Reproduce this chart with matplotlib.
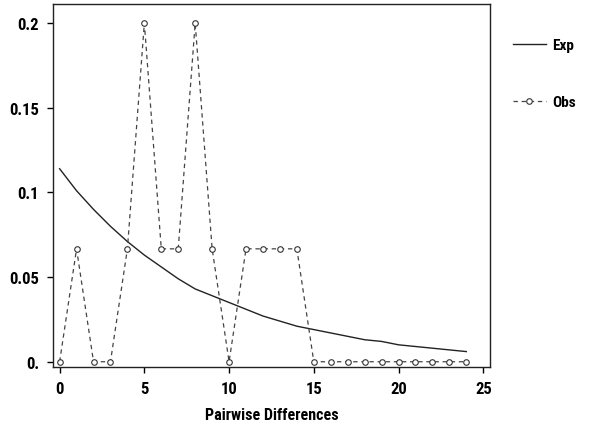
import matplotlib
matplotlib.use("Agg")
import matplotlib.pyplot as plt
import matplotlib.patheffects as pe
from matplotlib import font_manager

bold_fams = {f.name for f in font_manager.fontManager.ttflist
             if (f.weight == 'bold' or (isinstance(f.weight, int) and f.weight >= 700))}
family = None
for cand in ['Liberation Sans Narrow', 'Roboto Condensed', 'PT Sans Narrow', 'Archivo Narrow']:
    if cand in bold_fams:
        family = cand
        break
fake_bold = family is None
if family is None:
    family = 'Archivo Narrow'
plt.rcParams['font.family'] = [family, 'DejaVu Sans']
effects = [pe.withStroke(linewidth=0.7, foreground='black')] if fake_bold else []

diffs = list(range(25))
exp_vals = [0.114, 0.101, 0.090, 0.080, 0.071, 0.063, 0.056, 0.049, 0.043, 0.039,
            0.035, 0.031, 0.027, 0.024, 0.021, 0.019, 0.017, 0.015, 0.013, 0.012,
            0.010, 0.009, 0.008, 0.007, 0.006]
obs_vals = [0, 0.0667, 0, 0, 0.0667, 0.2, 0.0667, 0.0667, 0.2, 0.0667,
            0, 0.0667, 0.0667, 0.0667, 0.0667, 0, 0, 0, 0, 0,
            0, 0, 0, 0, 0]
xticks = [0, 5, 10, 15, 20, 25]
yticks = [0, 0.05, 0.1, 0.15, 0.2]
yticklabels = ['0.', '0.05', '0.1', '0.15', '0.2']

fig = plt.figure(figsize=(5.95, 4.27), dpi=100)
ax = fig.add_axes([0.0891, 0.1382, 0.7345, 0.850])

ax.plot(diffs, exp_vals, color='#222222', lw=1.0, label='Exp')
ax.plot(diffs, obs_vals, color='#444444', lw=0.9, ls=(0, (3.5, 3)),
        marker='o', ms=4, mfc='white', mec='#333333', mew=0.8, label='Obs')

ax.set_xlim(-0.39, 25.4)
ax.set_ylim(-0.0031, 0.2113)
ax.set_xticks(xticks)
ax.set_xticklabels([str(t) for t in xticks], fontsize=12, fontweight='bold')
ax.set_yticks(yticks)
ax.set_yticklabels(yticklabels, fontsize=12, fontweight='bold')
ax.tick_params(direction='out', length=4, width=1, pad=6)
for s in ax.spines.values():
    s.set_linewidth(1.0)
    s.set_color('#222222')
ax.set_xlabel('Pairwise Differences', fontsize=11.5, fontweight='bold', labelpad=8)

leg = ax.legend(loc='upper left', bbox_to_anchor=(1.02, 0.944), frameon=False,
                numpoints=1, handlelength=2.2, labelspacing=2.8, handletextpad=0.4,
                prop={'size': 11, 'weight': 'bold'})

texts = ax.get_xticklabels() + ax.get_yticklabels() + [ax.xaxis.label] + leg.get_texts()
for t in texts:
    t.set_path_effects(effects)

fig.savefig('out.png', dpi=100)
